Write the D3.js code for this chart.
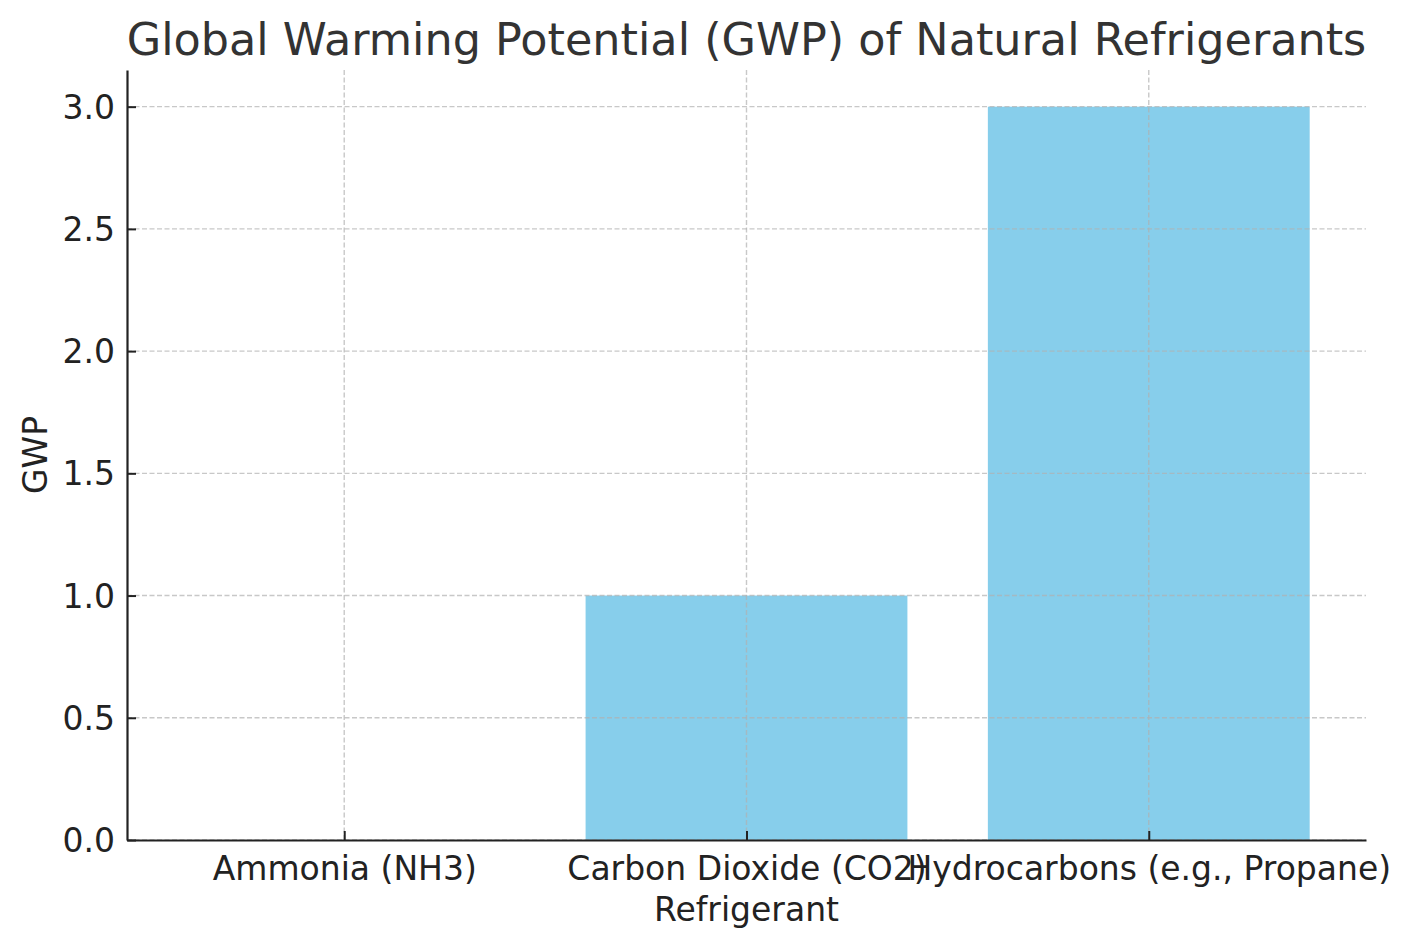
<!DOCTYPE html>
<html><head><meta charset="utf-8">
<script src="https://cdn.jsdelivr.net/npm/d3@7"></script>
<style>body{margin:0;background:#fff;} svg{display:block;font-family:"DejaVu Sans",sans-serif;}</style>
</head><body>
<svg id="c" width="1414" height="947"></svg>
<script>
const categories = ["Ammonia (NH3)", "Carbon Dioxide (CO2)", "Hydrocarbons (e.g., Propane)"];
const gwpValues = [0, 1, 3];
const yTicks = [0, 0.5, 1.0, 1.5, 2.0, 2.5, 3.0];
const titleText = "Global Warming Potential (GWP) of Natural Refrigerants";
const xLabel = "Refrigerant";
const yLabel = "GWP";

const svg = d3.select("#c");
const L = 127, R = 1366, T = 70, B = 840;
const x = d3.scaleLinear().domain([-0.54, categories.length - 1 + 0.54]).range([L, R]);
const y = d3.scaleLinear().domain([0, 3.15]).range([B, T]);
const bw = x(0.8) - x(0);

// bars
svg.append("g").selectAll("rect").data(gwpValues).join("rect")
  .attr("x", (d, i) => x(i) - bw / 2).attr("width", bw)
  .attr("y", d => y(d)).attr("height", d => y(0) - y(d))
  .attr("fill", "#87ceeb");

// grid
const grid = svg.append("g").attr("stroke", "#b0b0b0").attr("stroke-opacity", 0.7)
  .attr("stroke-width", 1.4).attr("stroke-dasharray", "5,2.5");
grid.selectAll(".gy").data(yTicks).join("line")
  .attr("x1", L).attr("x2", R).attr("y1", d => y(d)).attr("y2", d => y(d));
grid.selectAll(".gx").data(categories).join("line")
  .attr("x1", (d, i) => x(i)).attr("x2", (d, i) => x(i)).attr("y1", T).attr("y2", B);

// axes
const yAxis = d3.axisLeft(y).tickValues(yTicks).tickFormat(d3.format(".1f")).tickSizeInner(-9).tickSizeOuter(0).tickPadding(12);
const gy = svg.append("g").attr("transform", `translate(${L},0)`).call(yAxis);
const xAxis = d3.axisBottom(x).tickValues(categories.map((d, i) => i)).tickFormat(i => categories[i]).tickSizeInner(-9).tickSizeOuter(0).tickPadding(10);
const gx = svg.append("g").attr("transform", `translate(0,${B})`).call(xAxis);
[gx, gy].forEach(g => {
  g.select(".domain").attr("stroke", "#222").attr("stroke-width", 2.2);
  g.selectAll(".tick line").attr("stroke", "#222").attr("stroke-width", 2);
  g.selectAll(".tick text").attr("fill", "#222").style("font-size", "33px").style("font-family", "DejaVu Sans");
});
gx.selectAll(".tick text").attr("dy", "0.9em");
gy.selectAll(".tick text").attr("dy", "0.35em");
svg.append("text").attr("x", (L + R) / 2).attr("y", 55).attr("text-anchor", "middle")
  .attr("fill", "#333").style("font-size", "44.5px").text(titleText);
svg.append("text").attr("x", (L + R) / 2).attr("y", 921).attr("text-anchor", "middle")
  .attr("fill", "#222").style("font-size", "33px").text(xLabel);
svg.append("text").attr("transform", `translate(47,${(T + B) / 2}) rotate(-90)`).attr("text-anchor", "middle")
  .attr("fill", "#222").style("font-size", "33px").text(yLabel);
</script>
</body></html>
